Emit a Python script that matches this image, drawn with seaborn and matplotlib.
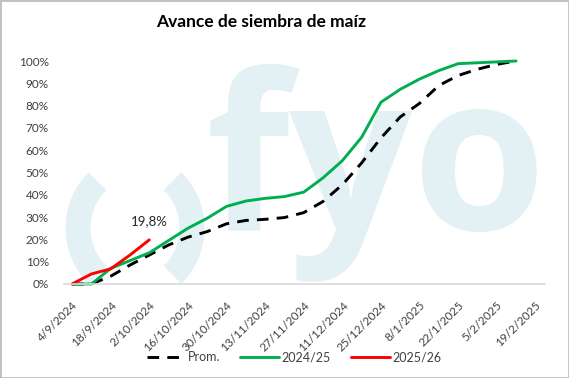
import pandas as pd
import seaborn as sns
import matplotlib.pyplot as plt
from matplotlib.patches import Arc, Rectangle
from matplotlib.transforms import ScaledTranslation
from matplotlib.ticker import PercentFormatter

# fechas semanales (eje x)
fechas = ["4/9/2024", "11/9/2024", "18/9/2024", "25/9/2024", "2/10/2024", "9/10/2024",
          "16/10/2024", "23/10/2024", "30/10/2024", "6/11/2024", "13/11/2024", "20/11/2024",
          "27/11/2024", "4/12/2024", "11/12/2024", "18/12/2024", "25/12/2024", "1/1/2025",
          "8/1/2025", "15/1/2025", "22/1/2025", "29/1/2025", "5/2/2025", "12/2/2025",
          "19/2/2025"]

# avance de siembra (%)
prom = [0, 0, 3.5, 8.5, 13, 17.5, 21, 23.5, 27, 28.5, 29, 29.8, 32, 37, 44.5, 54.3,
        65.5, 74.9, 81, 89, 93.5, 96.3, 98.5, 100]
camp_2425 = [0, 0, 7, 10.5, 14, 19.5, 25, 29.5, 34.8, 37.2, 38.4, 39.2, 41.2, 47.6, 55.3,
             65.8, 81.5, 87.3, 91.9, 95.7, 98.8, 99.2, 99.6, 100]
camp_2526 = [0, 4.5, 6.8, 13, 19.8]

series = ["Prom.", "2024/25", "2025/26"]
colores = ["#000000", "#00b050", "#ff0000"]

rows = []
for nombre, vals in zip(series, [prom, camp_2425, camp_2526]):
    for i, v in enumerate(vals):
        rows.append({"semana": i, "avance": v / 100, "serie": nombre})
df = pd.DataFrame(rows)

sns.set_style("white")
plt.rcParams['font.family'] = ['Lato', 'DejaVu Sans']

fig = plt.figure(figsize=(5.69, 3.78), dpi=100)
ax = fig.add_axes([64/569, 94/378, 481/569, 223/378])
ax.set_facecolor("none")

# marca de agua
agua = "#e3f1f5"
for t1, t2 in [(118, 242), (-62, 62)]:
    fig.add_artist(Arc((135/569, 150/378), 114/569, 124/378, theta1=t1, theta2=t2,
                       transform=fig.transFigure, color=agua, lw=18, zorder=-5))
fig.text(547/569, 148/378, "fyo", fontsize=156, fontweight="bold", family="Open Sans",
         color=agua, ha="right", va="baseline", zorder=-5)

sns.lineplot(data=df, x="semana", y="avance", hue="serie", style="serie",
             hue_order=series, style_order=series, palette=colores,
             dashes={"Prom.": (4, 2.8), "2024/25": "", "2025/26": ""},
             linewidth=2.1, sort=False, ax=ax)

ax.annotate("19,8%", xy=(4, camp_2526[-1] / 100), xytext=(0, 9), textcoords="offset points",
            ha="center", va="bottom", fontsize=9.5, color="#262626")

ax.set_xlim(-0.42, 24.5)
ax.set_ylim(0, 1)
for l in ax.lines:
    l.set_clip_on(False)
ax.set_yticks([i / 10 for i in range(11)])
ax.yaxis.set_major_formatter(PercentFormatter(1.0, decimals=0))
ax.set_xticks(range(0, len(fechas), 2))
ax.set_xticklabels(fechas[::2], rotation=45, ha="right", va="top", rotation_mode="anchor")
off = ScaledTranslation(5/100, 0, fig.dpi_scale_trans)
for lbl in ax.get_xticklabels():
    lbl.set_transform(lbl.get_transform() + off)
ax.tick_params(axis="x", length=0, pad=11, labelsize=8.5, labelcolor="#404040")
ax.tick_params(axis="y", length=0, pad=11, labelsize=8.5, labelcolor="#404040")
ax.set_xlabel("")
ax.set_ylabel("")
for s in ["top", "left", "right"]:
    ax.spines[s].set_visible(False)
ax.spines["bottom"].set_color("#d9d9d9")
ax.spines["bottom"].set_linewidth(1.2)

handles, labels = ax.get_legend_handles_labels()
ax.get_legend().remove()
fig.legend(handles, labels, loc="center", bbox_to_anchor=(294/569, 21/378), ncol=3,
           frameon=False, fontsize=9, handlelength=3.1, handletextpad=0.2,
           columnspacing=1.6, labelcolor="#404040")

fig.text(261/569, 356/378, "Avance de siembra de maíz", ha="center", va="center",
         fontsize=12.5, fontweight="bold", color="#000000")

fig.add_artist(Rectangle((0, 0), 1, 1, transform=fig.transFigure, fill=False,
                         edgecolor="#bfbfbf", lw=2))

fig.savefig("out.png", dpi=100)
